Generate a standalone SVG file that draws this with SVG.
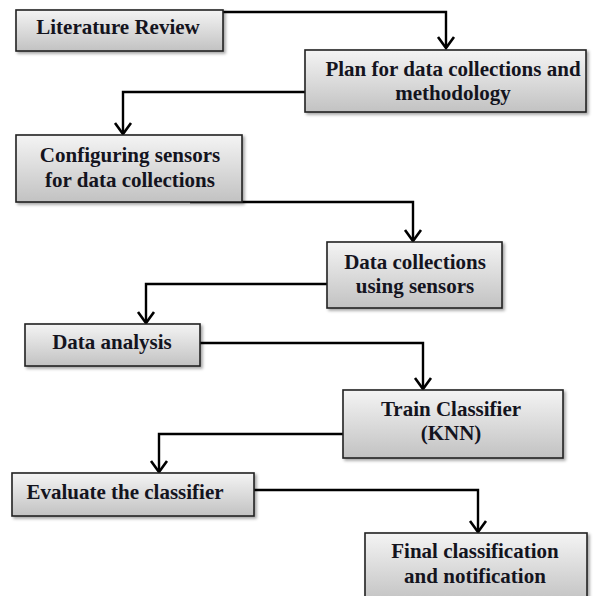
<svg xmlns="http://www.w3.org/2000/svg" width="596" height="596" viewBox="0 0 596 596">
<defs>
<linearGradient id="g" x1="0" y1="0" x2="0" y2="1">
<stop offset="0" stop-color="#f4f4f4"/>
<stop offset="1" stop-color="#c2c2c2"/>
</linearGradient>
<filter id="sh" x="-10%" y="-10%" width="120%" height="130%">
<feDropShadow dx="2" dy="2" stdDeviation="1.5" flood-color="#000" flood-opacity="0.35"/>
</filter>
<marker id="arr" markerUnits="userSpaceOnUse" markerWidth="20" markerHeight="20" refX="15" refY="10" orient="auto" viewBox="0 0 20 20">
<path d="M4,2 L15,10 L4,18" fill="none" stroke="#000" stroke-width="2.6"/>
</marker>
</defs>
<style>
.box{fill:url(#g);stroke:#222;stroke-width:1.6;filter:url(#sh)}
.t{font-family:'Liberation Serif','Times New Roman',serif;font-weight:700;font-size:21px;fill:#14141e;text-anchor:middle}
.c{fill:none;stroke:#000;stroke-width:2.4}
</style>
<rect width="596" height="596" fill="#fff"/>
<g id="connectors">
<path class="c" d="M223,12 H446 V48" marker-end="url(#arr)"/>
<path class="c" d="M305,92 H123 V134" marker-end="url(#arr)"/>
<path class="c" d="M190,202 H413 V241" marker-end="url(#arr)"/>
<path class="c" d="M327,284 H146 V323" marker-end="url(#arr)"/>
<path class="c" d="M200,343 H423 V389" marker-end="url(#arr)"/>
<path class="c" d="M343,434 H159 V472" marker-end="url(#arr)"/>
<path class="c" d="M254,490 H478 V532" marker-end="url(#arr)"/>
</g>
<g id="n1"><rect class="box" x="16" y="10" width="207" height="41"/><text class="t" x="118" y="34">Literature Review</text></g>
<g id="n2"><rect class="box" x="305" y="50" width="281" height="62"/><text class="t" x="453" y="76">Plan for data collections and</text><text class="t" x="453" y="100">methodology</text></g>
<g id="n3"><rect class="box" x="16" y="135" width="226" height="67"/><text class="t" x="130" y="162">Configuring sensors</text><text class="t" x="130" y="187">for data collections</text></g>
<g id="n4"><rect class="box" x="327" y="242" width="175" height="66"/><text class="t" x="415" y="269">Data collections</text><text class="t" x="415" y="293">using sensors</text></g>
<g id="n5"><rect class="box" x="25" y="324" width="175" height="42"/><text class="t" x="112" y="349">Data analysis</text></g>
<g id="n6"><rect class="box" x="343" y="390" width="220" height="68"/><text class="t" x="451" y="416">Train Classifier</text><text class="t" x="451" y="440">(KNN)</text></g>
<g id="n7"><rect class="box" x="12" y="473" width="242" height="43"/><text class="t" x="125" y="499">Evaluate the classifier</text></g>
<g id="n8"><rect class="box" x="365" y="533" width="222" height="70"/><text class="t" x="475" y="558">Final classification</text><text class="t" x="475" y="583">and notification</text></g>
</svg>
